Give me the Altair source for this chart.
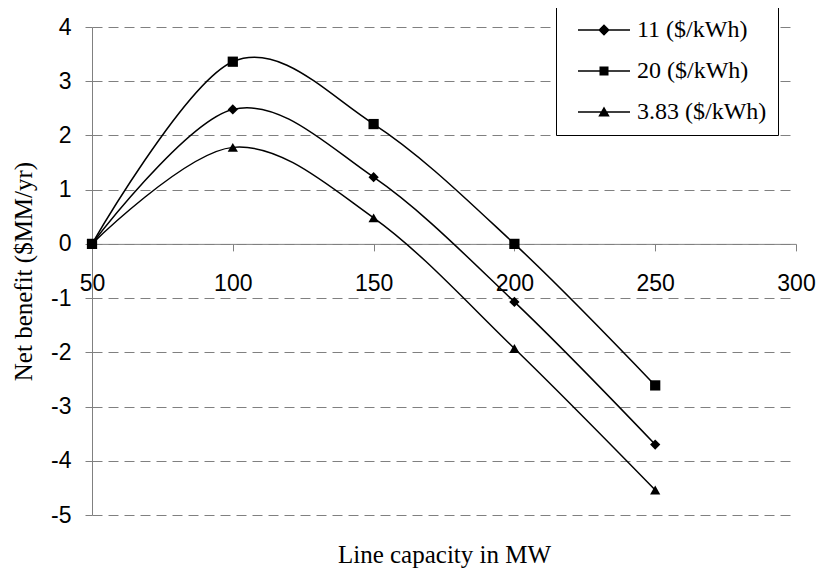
import altair as alt
import pandas as pd

capacity = [50, 100, 150, 200, 250]
series_names = ["11 ($/kWh)", "20 ($/kWh)", "3.83 ($/kWh)"]
benefit_11 = [0, 2.48, 1.23, -1.07, -3.70]
benefit_20 = [0, 3.36, 2.21, 0.0, -2.61]
benefit_383 = [0, 1.78, 0.48, -1.93, -4.54]
x_ticks = [50, 100, 150, 200, 250, 300]
y_ticks = [-5, -4, -3, -2, -1, 0, 1, 2, 3, 4]

rows = []
for name, vals in zip(series_names, [benefit_11, benefit_20, benefit_383]):
    for c, v in zip(capacity, vals):
        rows.append({"capacity": c, "benefit": v, "series": name})
df = pd.DataFrame(rows)

W, H = 704, 488
x_scale = alt.Scale(domain=[50, 300], nice=False, zero=False)
y_scale = alt.Scale(domain=[-5, 4], nice=False, zero=False)

x_enc = alt.X(
    "capacity:Q",
    scale=x_scale,
    axis=alt.Axis(
        values=x_ticks,
        offset=-H * 5 / 9,
        grid=False,
        title="Line capacity in MW",
        titleFont="Liberation Serif",
        titleFontSize=25,
        titleFontWeight="normal",
        titleColor="black",
        titleY=311,
        titleBaseline="middle",
        labelFont="Liberation Sans",
        labelFontSize=23,
        labelColor="black",
        labelPadding=22,
        tickSize=7,
        tickColor="#808080",
        domainColor="#808080",
        labelFlush=False,
        labelOverlap=False,
    ),
)
y_enc = alt.Y(
    "benefit:Q",
    scale=y_scale,
    axis=alt.Axis(
        values=y_ticks,
        labelExpr="datum.value < 0 ? '-' + abs(datum.value) : '' + datum.value",
        grid=True,
        gridDash=[10, 6],
        gridColor="#808080",
        gridWidth=1,
        title="Net benefit ($MM/yr)",
        titleFont="Liberation Serif",
        titleFontSize=25,
        titleFontWeight="normal",
        titleColor="black",
        titleX=-69,
        titleY=H / 2,
        titleAngle=-90,
        titleBaseline="middle",
        labelFont="Liberation Sans",
        labelFontSize=23,
        labelColor="black",
        labelPadding=14,
        tickSize=7,
        tickColor="#808080",
        domainColor="#808080",
        labelFlush=False,
        labelOverlap=False,
    ),
)

lines = alt.Chart(df).mark_line(
    interpolate="cardinal", color="black", strokeWidth=1.5
).encode(x=x_enc, y=y_enc, detail="series:N")

points = alt.Chart(df).mark_point(
    filled=True, color="black", opacity=1, size=105
).encode(
    x=x_enc,
    y=y_enc,
    shape=alt.Shape(
        "series:N",
        scale=alt.Scale(domain=series_names, range=["diamond", "square", "triangle-up"]),
        legend=None,
    ),
)

legend_shapes = [
    "M-1.27,-0.035H1.27V0.035H-1.27ZM0,-0.28L0.28,0L0,0.28L-0.28,0Z",
    "M-1.27,-0.035H1.27V0.035H-1.27ZM-0.22,-0.22H0.22V0.22H-0.22Z",
    "M-1.27,-0.035H1.27V0.035H-1.27ZM0,-0.27L0.28,0.22L-0.28,0.22Z",
]

legend_layer = alt.Chart(df).transform_filter("datum.capacity < 0").mark_point(
    filled=True, color="black", opacity=1
).encode(
    x=x_enc,
    y=y_enc,
    shape=alt.Shape(
        "series:N",
        scale=alt.Scale(domain=series_names, range=legend_shapes),
        legend=alt.Legend(
            title=None,
            orient="none",
            legendX=464,
            legendY=-20,
            labelFont="Liberation Serif",
            labelFontSize=24,
            labelColor="black",
            symbolSize=1681,
            symbolFillColor="black",
            symbolOpacity=1,
            strokeColor="black",
            fillColor="white",
            clipHeight=24,
            padding=11,
            rowPadding=17,
            symbolOffset=15.5,
            labelOffset=11.5,
        ),
    ),
)

chart = (
    alt.layer(lines, points, legend_layer)
    .resolve_scale(shape="independent")
    .properties(
        width=W,
        height=H,
        autosize=alt.AutoSizeParams(type="none"),
        padding={"left": 84, "top": 19, "right": 20, "bottom": 53},
        background="white",
    )
    .configure_view(stroke=None)
)

chart.save("out.html", embed_options={"renderer": "svg", "actions": False})
